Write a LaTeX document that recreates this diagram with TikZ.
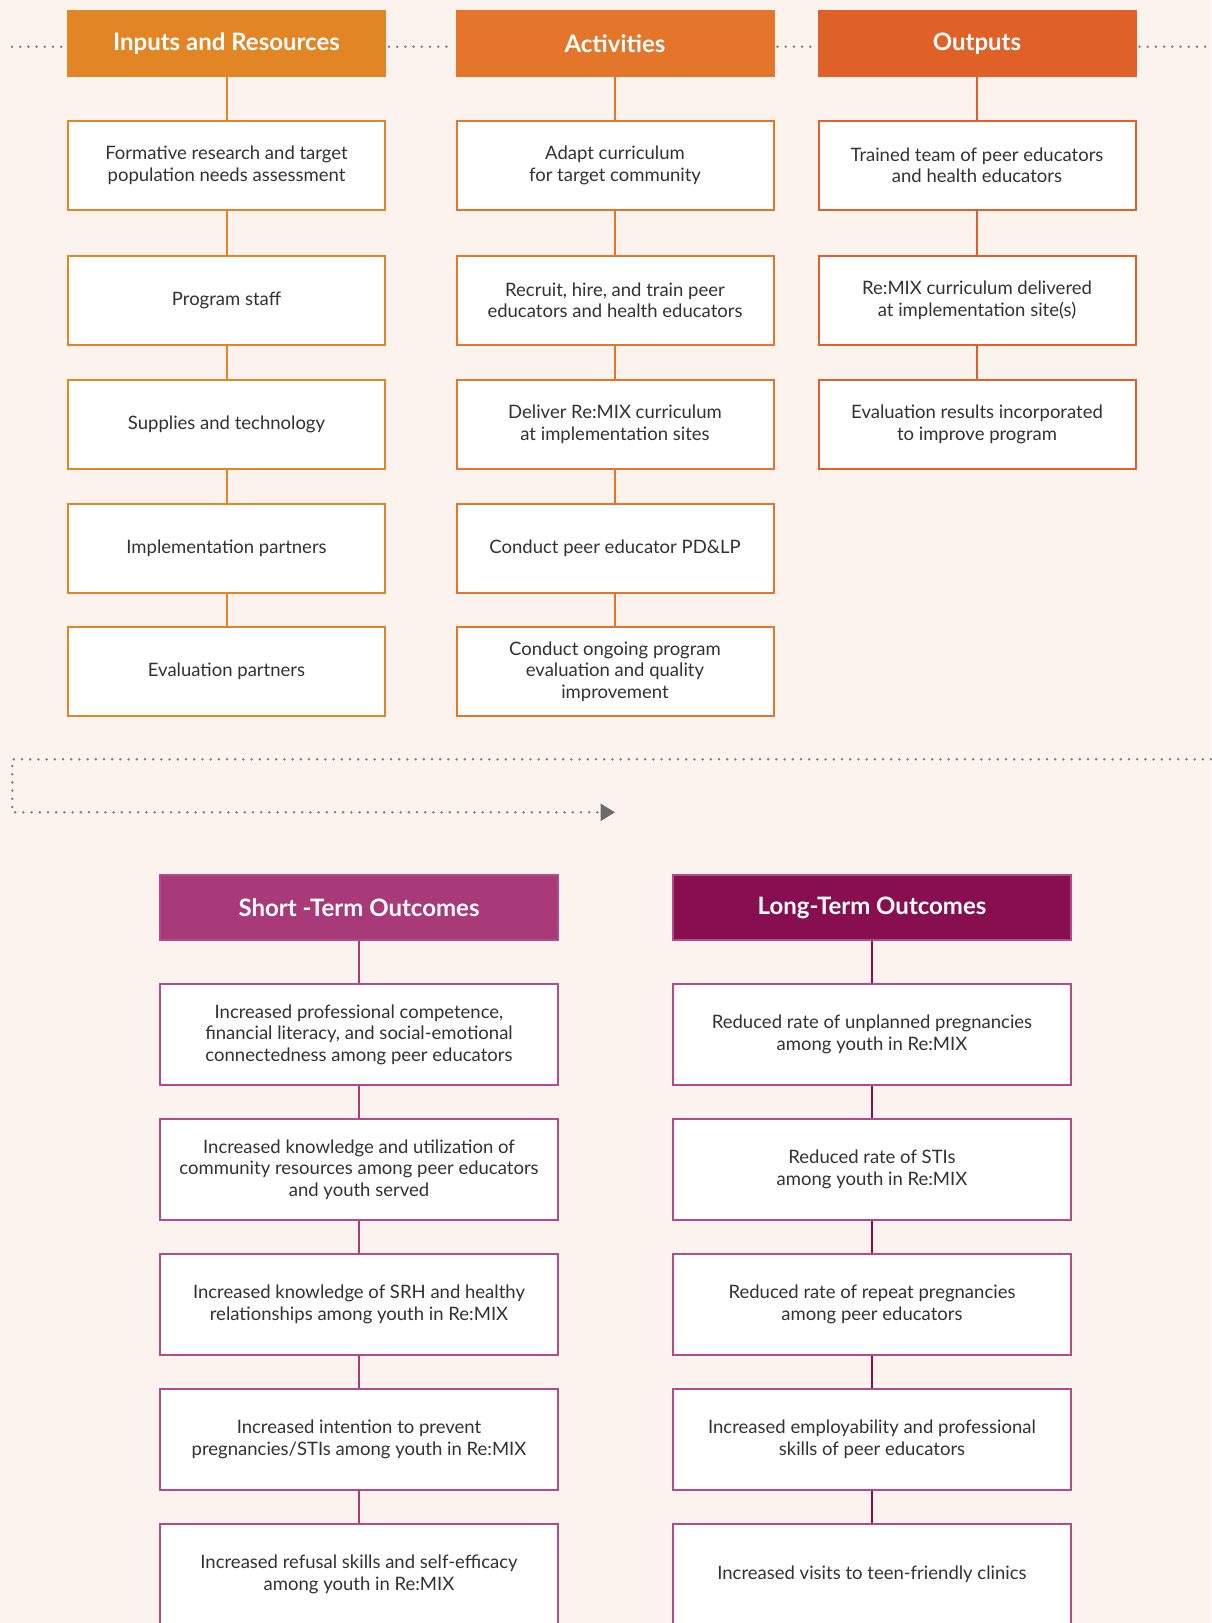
\documentclass[tikz,border=0pt]{standalone}
\usepackage{fontspec}
\setmainfont{Lato}
\usetikzlibrary{arrows.meta}
\definecolor{bgc}{RGB}{252,243,238}
\definecolor{inpc}{RGB}{226,133,37}
\definecolor{actc}{RGB}{227,118,42}
\definecolor{outc}{RGB}{224,97,40}
\definecolor{stoc}{RGB}{168,58,122}
\definecolor{ltoc}{RGB}{135,15,79}
\definecolor{pinkc}{RGB}{178,74,140}
\definecolor{txtc}{RGB}{50,50,50}
\definecolor{dotc}{RGB}{128,128,128}
\definecolor{tipc}{RGB}{108,108,110}
\tikzset{
  head/.style={fill=#1,inner sep=0pt,minimum width=317pt,minimum height=65pt,
    text=white,font=\fontsize{24}{28}\selectfont\bfseries},
  lhead/.style={head=#1,minimum width=398pt},
  box/.style={draw=#1,line width=2pt,fill=white,inner sep=0pt,minimum width=317pt,
    minimum height=89pt,align=center,text=txtc,font=\fontsize{18.5}{21.5}\selectfont},
  lbox/.style={box=pinkc,line width=2.5pt,minimum width=398pt,minimum height=101pt},
  link/.style={draw=#1,line width=2pt},
  dotline/.style={draw=dotc,line width=2.8pt,line cap=round,dash pattern=on 0pt off 8.2pt}
}
\begin{document}
\begin{tikzpicture}[x=1pt,y=-1pt]
    \path[use as bounding box,fill=bgc] (0,0) rectangle (1211,1623);
      \begin{scope}[every node/.style={box=inpc}]
        \node[head=inpc] (inp) at (226.5,43.5) {Inputs and Resources};
        \node (inp1) at (226.5,165.5) {Formative research and target\\population needs assessment};
        \node (inp2) at (226.5,300.5) {Program staff};
        \node (inp3) at (226.5,424.5) {Supplies and technology};
        \node (inp4) at (226.5,548) {Implementation partners};
        \node (inp5) at (226.5,671.5) {Evaluation partners};
      \end{scope}
      \begin{scope}[every node/.style={box=actc}]
        \node[head=actc] (act) at (615,43.5) {Activities};
        \node (act1) at (615,165.5) {Adapt curriculum\\for target community};
        \node (act2) at (615,300.5) {Recruit, hire, and train peer\\educators and health educators};
        \node (act3) at (615,424.5) {Deliver Re:MIX curriculum\\at implementation sites};
        \node (act4) at (615,548) {Conduct peer educator PD\&LP};
        \node (act5) at (615,671.5) {Conduct ongoing program\\evaluation and quality\\improvement};
      \end{scope}
      \begin{scope}[every node/.style={box=outc}]
        \node[head=outc] (out) at (977,43.5) {Outputs};
        \node (out1) at (977,165.5) {Trained team of peer educators\\and health educators};
        \node (out2) at (977,300.5) {Re:MIX curriculum delivered\\at implementation site(s)};
        \node (out3) at (977,424.5) {Evaluation results incorporated\\to improve program};
      \end{scope}
      \begin{scope}[every node/.style={lbox}]
        \node[lhead=stoc] (sto) at (359,907.5) {Short -Term Outcomes};
        \node (sto1) at (359,1034.5) {Increased professional competence,\\financial literacy, and social-emotional\\connectedness among peer educators};
        \node (sto2) at (359,1169.5) {Increased knowledge and utilization of\\community resources among peer educators\\and youth served};
        \node (sto3) at (359,1304.5) {Increased knowledge of SRH and healthy\\relationships among youth in Re:MIX};
        \node (sto4) at (359,1439.5) {Increased intention to prevent\\pregnancies/STIs among youth in Re:MIX};
        \node (sto5) at (359,1574.5) {Increased refusal skills and self-efficacy\\among youth in Re:MIX};
        \node[lhead=ltoc] (lto) at (872,907.5) {Long-Term Outcomes};
        \node (lto1) at (872,1034.5) {Reduced rate of unplanned pregnancies\\among youth in Re:MIX};
        \node (lto2) at (872,1169.5) {Reduced rate of STIs\\among youth in Re:MIX};
        \node (lto3) at (872,1304.5) {Reduced rate of repeat pregnancies\\among peer educators};
        \node (lto4) at (872,1439.5) {Increased employability and professional\\skills of peer educators};
        \node (lto5) at (872,1574.5) {Increased visits to teen-friendly clinics};
      \end{scope}
      \coordinate (lft) at (12,46.7);
      \coordinate (rgt) at (1211,46.7);
      \coordinate (brk1) at (1211,759.3);
      \coordinate (brk2) at (12.3,759.3);
      \coordinate (brk3) at (12.3,812.3);
      \coordinate (arr) at (615,812.3);
      \begin{scope}[every edge/.style={link=inpc}]
        \path (inp) edge (inp1);
        \path (inp1) edge (inp2);
        \path (inp2) edge (inp3);
        \path (inp3) edge (inp4);
        \path (inp4) edge (inp5);
      \end{scope}
      \begin{scope}[every edge/.style={link=actc}]
        \path (act) edge (act1);
        \path (act1) edge (act2);
        \path (act2) edge (act3);
        \path (act3) edge (act4);
        \path (act4) edge (act5);
      \end{scope}
      \begin{scope}[every edge/.style={link=outc}]
        \path (out) edge (out1);
        \path (out1) edge (out2);
        \path (out2) edge (out3);
      \end{scope}
      \begin{scope}[every edge/.style={link=stoc}]
        \path (sto) edge (sto1);
        \path (sto1) edge (sto2);
        \path (sto2) edge (sto3);
        \path (sto3) edge (sto4);
        \path (sto4) edge (sto5);
      \end{scope}
      \begin{scope}[every edge/.style={link=ltoc}]
        \path (lto) edge (lto1);
        \path (lto1) edge (lto2);
        \path (lto2) edge (lto3);
        \path (lto3) edge (lto4);
        \path (lto4) edge (lto5);
      \end{scope}
      \begin{scope}[every edge/.style={dotline}]
        \path (lft) edge ([xshift=-3pt]lft -| inp.west);
        \path ([xshift=3pt]inp.east |- lft) edge ([xshift=-3pt]act.west |- lft);
        \path ([xshift=3pt]act.east |- lft) edge ([xshift=-3pt]out.west |- lft);
        \path ([xshift=3pt]out.east |- lft) edge (rgt);
      \end{scope}
      \draw[dotline,-{Triangle[length=14.5pt,width=17pt,color=tipc,fill=tipc]}] (brk1) -- (brk2) -- (brk3) -- (arr);
    \end{tikzpicture}
\end{document}
